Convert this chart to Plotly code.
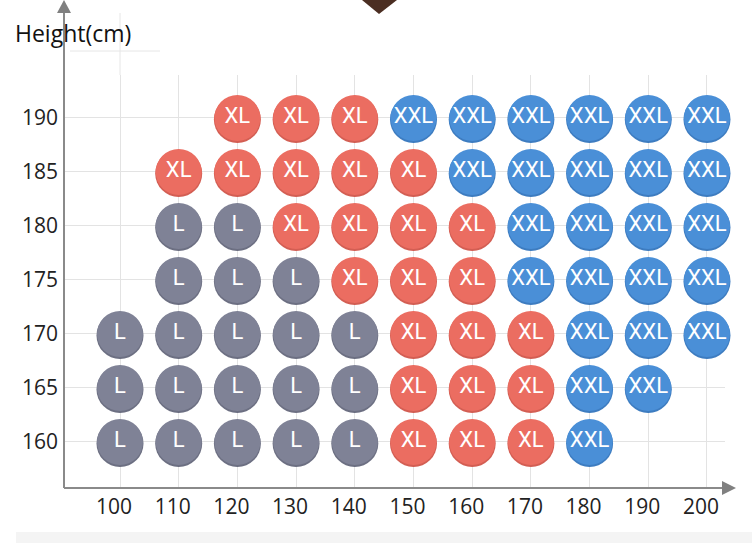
import plotly.graph_objects as go

# Weight (x) and height (y) grid of the size chart
weights = [100, 110, 120, 130, 140, 150, 160, 170, 180, 190, 200]
heights = [190, 185, 180, 175, 170, 165, 160]
size_grid = [
    ["", "", "XL", "XL", "XL", "XXL", "XXL", "XXL", "XXL", "XXL", "XXL"],   # 190
    ["", "XL", "XL", "XL", "XL", "XL", "XXL", "XXL", "XXL", "XXL", "XXL"],  # 185
    ["", "L", "L", "XL", "XL", "XL", "XL", "XXL", "XXL", "XXL", "XXL"],     # 180
    ["", "L", "L", "L", "XL", "XL", "XL", "XXL", "XXL", "XXL", "XXL"],      # 175
    ["L", "L", "L", "L", "L", "XL", "XL", "XL", "XXL", "XXL", "XXL"],       # 170
    ["L", "L", "L", "L", "L", "XL", "XL", "XL", "XXL", "XXL", ""],          # 165
    ["L", "L", "L", "L", "L", "XL", "XL", "XL", "XXL", "", ""],             # 160
]
sizes = ["L", "XL", "XXL"]
colors = {"L": "#7f8296", "XL": "#eb6d61", "XXL": "#4a8fd7"}
shadows = {"L": "#6c6f82", "XL": "#d35e53", "XXL": "#3d7cc0"}
x_ticks = weights
y_ticks = heights

W, H = 752, 543
# plot area in pixels
L_PX, R_PX, T_PX, B_PX = 64, 725, 75, 488
x_range = [90.46, 203.07]
y_range = [155.74, 193.98]


def px(x):
    return (x - L_PX) / (R_PX - L_PX)


def py(y):
    return (B_PX - y) / (B_PX - T_PX)


fig = go.Figure()

y_per_px = (y_range[1] - y_range[0]) / (B_PX - T_PX)

for s in sizes:
    xs, ys = [], []
    for r, h in enumerate(heights):
        for c, w in enumerate(weights):
            if size_grid[r][c] == s:
                xs.append(w)
                ys.append(h)
    # soft bottom shadow
    fig.add_trace(go.Scatter(
        x=xs, y=[v - 1.5 * y_per_px for v in ys], mode="markers",
        marker=dict(size=47, color=shadows[s], line=dict(width=0)),
        hoverinfo="skip", showlegend=False, cliponaxis=False,
    ))
    fig.add_trace(go.Scatter(
        x=xs, y=ys, mode="markers+text", text=[s] * len(xs),
        textposition="middle center",
        textfont=dict(family="Roboto", size=22, color="white"),
        marker=dict(size=46, color=colors[s], line=dict(width=0)),
        name=s, showlegend=False, cliponaxis=False,
    ))

shapes = [
    # faint artefact lines near the title
    dict(type="line", xref="paper", yref="paper", x0=px(120), x1=px(120), y0=py(13), y1=py(75),
         line=dict(color="#e6e6e6", width=1)),
    dict(type="line", xref="paper", yref="paper", x0=px(70), x1=px(160), y0=py(51), y1=py(51),
         line=dict(color="#e6e6e6", width=1)),
    # y axis with arrow
    dict(type="line", xref="paper", yref="paper", x0=px(64), x1=px(64), y0=py(488), y1=py(10),
         line=dict(color="#8a8a8a", width=2)),
    dict(type="path", xref="paper", yref="paper",
         path=f"M {px(57)},{py(13)} L {px(71)},{py(13)} L {px(64)},{py(0)} Z",
         fillcolor="#808080", line=dict(width=0)),
    # x axis with arrow
    dict(type="line", xref="paper", yref="paper", x0=px(64), x1=px(726), y0=py(488), y1=py(488),
         line=dict(color="#8a8a8a", width=2)),
    dict(type="path", xref="paper", yref="paper",
         path=f"M {px(722)},{py(481)} L {px(722)},{py(495)} L {px(736)},{py(488)} Z",
         fillcolor="#808080", line=dict(width=0)),
    # brown marker at top centre
    dict(type="path", xref="paper", yref="paper",
         path=f"M {px(362)},{py(0)} L {px(397)},{py(0)} L {px(379)},{py(14)} Z",
         fillcolor="#4b2e22", line=dict(width=0)),
    # bottom strip
    dict(type="rect", xref="paper", yref="paper", x0=px(16), x1=px(752), y0=py(532), y1=py(543),
         fillcolor="#f4f4f4", line=dict(width=0), layer="below"),
]

fig.update_layout(
    width=W, height=H,
    margin=dict(l=L_PX, r=W - R_PX, t=T_PX, b=H - B_PX),
    paper_bgcolor="white", plot_bgcolor="white",
    font=dict(family="Open Sans", color="#222222"),
    xaxis=dict(
        range=x_range, tickvals=x_ticks, ticktext=[str(v) for v in x_ticks],
        showgrid=True, gridcolor="#e3e3e3", gridwidth=1, zeroline=False,
        showline=False, ticks="", tickfont=dict(size=21, color="#222222"),
        ticklabelshift=-6, ticklabelstandoff=4, fixedrange=True,
    ),
    yaxis=dict(
        range=y_range, tickvals=y_ticks, ticktext=[str(v) for v in y_ticks],
        showgrid=True, gridcolor="#e3e3e3", gridwidth=1, zeroline=False,
        showline=False, ticks="", tickfont=dict(size=21, color="#222222"),
        ticklabelstandoff=5, fixedrange=True,
    ),
    shapes=shapes,
    annotations=[dict(
        text="Height(cm)", xref="paper", yref="paper", x=px(13), y=py(33),
        xanchor="left", yanchor="middle", showarrow=False,
        font=dict(family="Open Sans", size=23, color="#111111"),
    )],
)

# drop the default page margin so the figure fills the window
fig.write_html("out.html", config={"displayModeBar": False},
               post_script="document.body.style.margin='0';")
